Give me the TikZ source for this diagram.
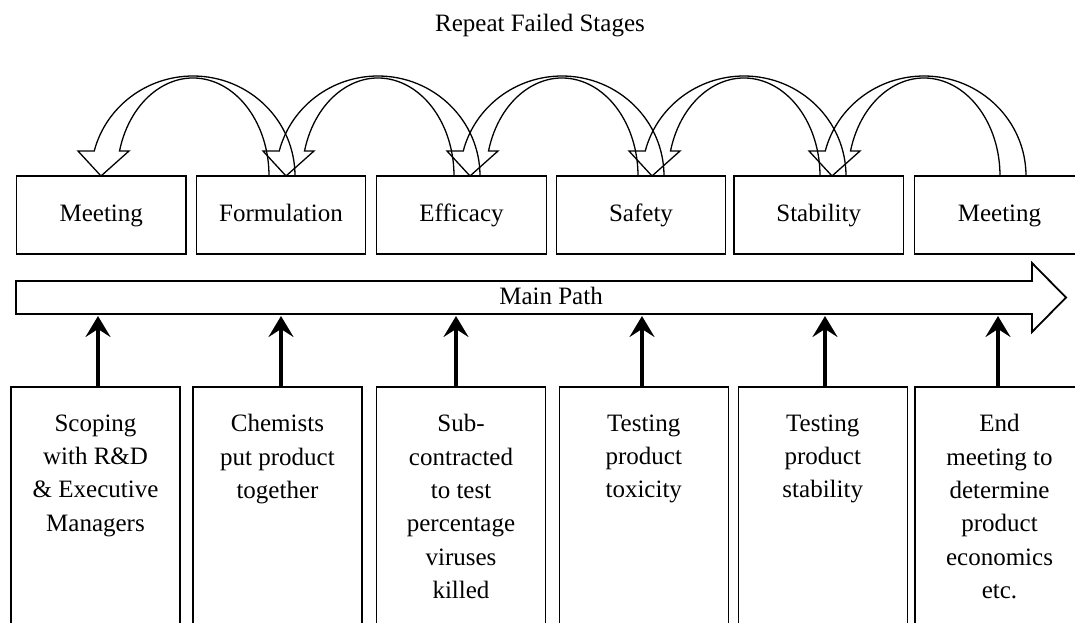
\documentclass[tikz,border=0pt]{standalone}
\usepackage{fontspec}
\setmainfont{Liberation Serif}
\usetikzlibrary{arrows.meta}

% hollow curved arrow: tail rises from the box at cx+76..cx+102,
% head lands on the box to the left with its tip at cx-92
\newcommand\blockarc[1]{%
  \draw[arcline] ({#1+102},-176)
    arc[start angle=0,end angle=165.52,x radius=102pt,y radius=100pt]
    -- ({#1-115},-151) -- ({#1-92},-176) -- ({#1-64},-151)
    -- ({#1-73.48},-151)
    arc[start angle=165.22,end angle=0,x radius=76pt,y radius=98pt]
    -- cycle;}

\tikzset{
  txt/.style={font=\fontsize{25}{33.3}\selectfont},
  stagebox/.style={draw, line width=1.2pt, minimum width=169.5pt,
    minimum height=78pt, inner sep=0pt, txt, text height=17.5pt, text depth=5.5pt},
  taskbox/.style={draw, line width=1.2pt, minimum width=169pt,
    minimum height=253pt, inner sep=0pt},
  tasktext/.style={txt, align=center, inner sep=0pt, anchor=north},
  arcline/.style={line width=1.3pt, line join=miter},
  pathline/.style={line width=1.8pt, line join=miter},
  feed/.style={line width=4.5pt, -{Stealth[length=21pt,width=25pt,inset=8pt]}},
}

\begin{document}
\begin{tikzpicture}[x=1pt,y=1pt]
\useasboundingbox (0,0) rectangle (1075,-622);
\clip (0,0) rectangle (1075,-622);

% heading
\node[txt, anchor=base] (title) at (540,-31) {Repeat Failed Stages};

% stage boxes
\node[stagebox] (t1) at (101.25,-215) {Meeting};
\node[stagebox] (t2) at (281,-215) {Formulation};
\node[stagebox] (t3) at (461.5,-215) {Efficacy};
\node[stagebox] (t4) at (641,-215) {Safety};
\node[stagebox] (t5) at (818.75,-215) {Stability};
\node[stagebox] (t6) at (999.5,-215) {Meeting};

% loops back to the previous stage
\blockarc{193}
\blockarc{378}
\blockarc{562}
\blockarc{744}
\blockarc{924}

% main path arrow
\draw[pathline] (16,-281) -- (1032,-281) -- (1032,-263) -- (1066,-297.5)
  -- (1032,-332) -- (1032,-314) -- (16,-314) -- cycle;
\node[txt, anchor=base] (main) at (551,-304) {Main Path};

% points on the main path fed from below
\coordinate (m1) at (98,-316);
\coordinate (m2) at (281,-316);
\coordinate (m3) at (456,-316);
\coordinate (m4) at (642,-316);
\coordinate (m5) at (825,-316);
\coordinate (m6) at (998,-316);

% task boxes
\node[taskbox] (b1) at (95.5,-513.5) {};
\node[taskbox] (b2) at (277.5,-513.5) {};
\node[taskbox] (b3) at (461,-513.5) {};
\node[taskbox] (b4) at (643.75,-513.5) {};
\node[taskbox] (b5) at (822.75,-513.5) {};
\node[taskbox] (b6) at (999.5,-513.5) {};

\node[tasktext] (b1t) at ([yshift=-28pt]b1.north) {Scoping\\with R\&D\\\& Executive\\Managers};
\node[tasktext] (b2t) at ([yshift=-28pt]b2.north) {Chemists\\put product\\together};
\node[tasktext] (b3t) at ([yshift=-28pt]b3.north) {Sub-\\contracted\\to test\\percentage\\viruses\\killed};
\node[tasktext] (b4t) at ([yshift=-28pt]b4.north) {Testing\\product\\toxicity};
\node[tasktext] (b5t) at ([yshift=-28pt]b5.north) {Testing\\product\\stability};
\node[tasktext] (b6t) at ([yshift=-28pt]b6.north) {End\\meeting to\\determine\\product\\economics\\etc.};

% feeds into the main path
\draw[feed] (m1 |- b1.north) -- (m1);
\draw[feed] (m2 |- b2.north) -- (m2);
\draw[feed] (m3 |- b3.north) -- (m3);
\draw[feed] (m4 |- b4.north) -- (m4);
\draw[feed] (m5 |- b5.north) -- (m5);
\draw[feed] (m6 |- b6.north) -- (m6);
\end{tikzpicture}
\end{document}
